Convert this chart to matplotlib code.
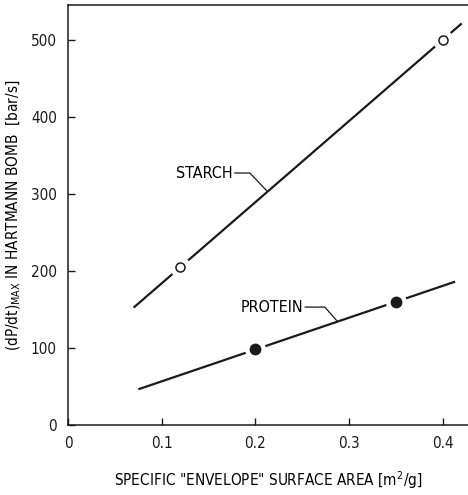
import numpy as np
import matplotlib
matplotlib.use('Agg')
import matplotlib.pyplot as plt

plt.rcParams['font.family'] = ['DejaVu Sans']
plt.rcParams['font.stretch'] = 'condensed'

# measured points
starch_x = [0.12, 0.40]
starch_y = [205, 500]
protein_x = [0.20, 0.35]
protein_y = [98, 160]

# extent of the fitted lines
starch_line_x = [0.07, 0.42]
protein_line_x = [0.075, 0.413]

x_ticks = [0, 0.1, 0.2, 0.3, 0.4]
x_tick_labels = ['0', '0.1', '0.2', '0.3', '0.4']
y_ticks = [0, 100, 200, 300, 400, 500]


def fit_line(xs, ys, xr):
    k, b = np.polyfit(xs, ys, 1)
    xr = np.array(xr)
    return xr, k * xr + b


fig = plt.figure(figsize=(4.68, 4.95), dpi=100)
ax = fig.add_axes([0.1453, 0.1414, 0.8547, 0.8485])

# lines
lx, ly = fit_line(starch_x, starch_y, starch_line_x)
ax.plot(lx, ly, color='#1a1a1a', lw=1.6, solid_capstyle='butt', zorder=2)
lx, ly = fit_line(protein_x, protein_y, protein_line_x)
ax.plot(lx, ly, color='#1a1a1a', lw=1.6, solid_capstyle='butt', zorder=2)

# white halo so the line breaks around each point
ax.plot(starch_x, starch_y, 'o', ms=14, color='white', zorder=3)
ax.plot(protein_x, protein_y, 'o', ms=14, color='white', zorder=3)

ax.plot(starch_x, starch_y, 'o', ms=6.5, mfc='white', mec='#1a1a1a', mew=1.1, zorder=4)
ax.plot(protein_x, protein_y, 'o', ms=7.5, color='#1a1a1a', zorder=4)

# labels with leader lines
ax.text(0.176, 327, 'STARCH', ha='right', va='center', fontsize=11.5)
ax.plot([0.178, 0.194, 0.212], [327, 327, 304], color='#1a1a1a', lw=0.9)
ax.text(0.251, 153, 'PROTEIN', ha='right', va='center', fontsize=11.5)
ax.plot([0.253, 0.274, 0.287], [153, 153, 135], color='#1a1a1a', lw=0.9)

ax.set_xlim(0, 0.4267)
ax.set_ylim(0, 545)
ax.set_xticks(x_ticks)
ax.set_xticklabels(x_tick_labels)
ax.set_yticks(y_ticks)
ax.tick_params(direction='in', length=5, width=1, labelsize=11, pad=8, colors='#1a1a1a')
ax.spines['right'].set_visible(False)
for s in ['left', 'top', 'bottom']:
    ax.spines[s].set_linewidth(1.1)
    ax.spines[s].set_color('#1a1a1a')

ax.set_xlabel('SPECIFIC "ENVELOPE" SURFACE AREA [m$^2$/g]', fontsize=11, labelpad=13)
ax.set_ylabel('(dP/dt)$_{\\mathrm{MAX}}$ IN HARTMANN BOMB  [bar/s]', fontsize=11, labelpad=6)

fig.savefig('out.png', dpi=100)
